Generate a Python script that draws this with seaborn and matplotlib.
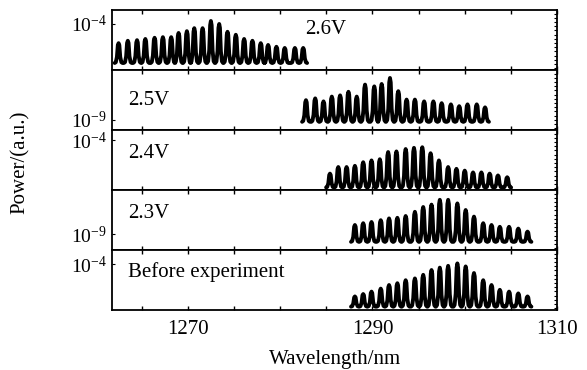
import numpy as np
import pandas as pd
import matplotlib
matplotlib.use('Agg')
import matplotlib.pyplot as plt
import seaborn as sns
from matplotlib.ticker import FixedLocator, MultipleLocator, NullFormatter

# peak wavelengths (nm) and peak power (log10) for each bias
wl_26 = [1262.5, 1263.5, 1264.5, 1265.4, 1266.4, 1267.3, 1268.2, 1269.0, 1269.9, 1270.7, 1271.6, 1272.5,
         1273.4, 1274.3, 1275.2, 1276.1, 1277.0, 1277.9, 1278.7, 1279.6, 1280.5, 1281.6, 1282.5]
pk_26 = [-7.2, -6.8, -6.7, -6.5, -6.3, -6.2, -6.2, -5.5, -5.2, -4.7, -4.7, -3.5,
         -4.0, -5.3, -5.8, -6.5, -6.8, -7.2, -7.5, -7.8, -8.0, -8.0, -8.0]

wl_25 = [1282.8, 1283.8, 1284.7, 1285.6, 1286.5, 1287.4, 1288.3, 1289.2, 1290.2, 1291.0, 1291.9,
         1292.8, 1293.7, 1294.6, 1295.6, 1296.6, 1297.5, 1298.5, 1299.4, 1300.3, 1301.3, 1302.2]
pk_25 = [-5.7, -5.4, -5.9, -5.1, -4.9, -4.3, -5.1, -3.1, -3.4, -3.0, -2.0,
         -4.2, -5.6, -5.6, -5.9, -5.9, -6.2, -6.4, -6.7, -6.4, -6.4, -6.9]

wl_24 = [1285.4, 1286.3, 1287.2, 1288.1, 1289.0, 1289.9, 1290.8, 1291.7, 1292.6, 1293.6, 1294.5,
         1295.4, 1296.3, 1297.2, 1298.2, 1299.1, 1300.0, 1300.9, 1301.8, 1302.7, 1303.6, 1304.6]
pk_24 = [-9.6, -8.5, -8.5, -8.3, -7.7, -7.4, -7.2, -6.0, -5.9, -5.5, -5.3,
         -5.2, -6.2, -7.4, -8.5, -8.8, -9.1, -9.4, -9.4, -9.6, -9.9, -10.2]

wl_23 = [1288.1, 1289.0, 1289.9, 1290.9, 1291.8, 1292.7, 1293.6, 1294.6, 1295.5, 1296.4, 1297.3,
         1298.2, 1299.2, 1300.1, 1301.0, 1302.0, 1302.9, 1303.8, 1304.8, 1305.8, 1306.8]
pk_23 = [-7.5, -7.2, -7.0, -6.7, -6.4, -6.3, -6.0, -5.3, -4.5, -4.1, -3.3,
         -3.3, -3.9, -5.0, -6.1, -7.2, -7.5, -7.8, -7.8, -8.1, -8.6]

wl_0 = [1288.1, 1289.0, 1289.9, 1290.9, 1291.8, 1292.7, 1293.6, 1294.6, 1295.5, 1296.4, 1297.3,
        1298.2, 1299.2, 1300.1, 1301.0, 1302.0, 1302.9, 1303.8, 1304.8, 1305.8, 1306.8]
pk_0 = [-9.4, -9.0, -8.6, -8.1, -7.5, -7.2, -6.7, -6.4, -5.8, -5.0, -4.6,
        -4.3, -3.9, -4.4, -5.5, -6.7, -7.5, -8.3, -8.6, -8.9, -9.4]

floors = [-10.5, -9.3, -11.9, -10.3, -11.1]          # noise floor (log10)
ylims = [(-11.67, -1.67), (-10.67, -0.67), (-12.33, -2.33), (-11.67, -1.67), (-11.67, -1.67)]
yticks = [-4, -9, -4, -9, -4]
labels = ['2.6V', '2.5V', '2.4V', '2.3V', 'Before experiment']
label_pos = [(0.434, 0.667), (0.036, 0.5), (0.036, 0.617), (0.036, 0.617), (0.036, 0.633)]

panels = [(wl_26, pk_26), (wl_25, pk_25), (wl_24, pk_24), (wl_23, pk_23), (wl_0, pk_0)]

# shape of a single comb line (offset in nm, fraction of peak height)
prof_dx = [-0.42, -0.3, -0.18, -0.08, 0.0, 0.08, 0.18, 0.3, 0.42]
prof_fr = [0.0, 0.04, 0.3, 0.9, 1.0, 0.9, 0.3, 0.04, 0.0]


def comb_trace(wl, pk, floor):
    xs, ys = [], []
    for c, h in zip(wl, pk):
        for dx, fr in zip(prof_dx, prof_fr):
            xs.append(c + dx)
            ys.append(10 ** (floor + fr * (h - floor)))
    return pd.DataFrame({'wl': xs, 'power': ys})


sns.set_theme(style='ticks')
plt.rcParams['font.family'] = ['Liberation Serif', 'DejaVu Serif']
plt.rcParams['mathtext.fontset'] = 'custom'
plt.rcParams['mathtext.rm'] = 'Liberation Serif'
plt.rcParams['mathtext.it'] = 'Liberation Serif:italic'
for key in ['text.color', 'axes.labelcolor', 'xtick.color', 'ytick.color']:
    plt.rcParams[key] = 'black'

fig, axes = plt.subplots(5, 1, figsize=(5.87, 3.70), dpi=100, sharex=True)
fig.subplots_adjust(left=0.191, right=0.949, top=0.973, bottom=0.162, hspace=0)

for i, ax in enumerate(axes):
    wl, pk = panels[i]
    df = comb_trace(wl, pk, floors[i])
    sns.lineplot(data=df, x='wl', y='power', ax=ax, sort=False, estimator=None,
                 color='black', lw=2.8)
    ax.set_yscale('log')
    lo, hi = ylims[i]
    ax.set_ylim(10 ** lo, 10 ** hi)
    ax.yaxis.set_major_locator(FixedLocator([10.0 ** yticks[i]]))
    ax.yaxis.set_minor_locator(FixedLocator(list(10 ** np.arange(lo + 0.3, hi, 0.7))))
    ax.yaxis.set_minor_formatter(NullFormatter())
    ax.set_yticklabels([r'$\mathregular{10^{%d}}$' % yticks[i]])
    ax.set_xlim(1261.8, 1310)
    ax.xaxis.set_major_locator(FixedLocator([1270, 1290, 1310]))
    ax.xaxis.set_minor_locator(MultipleLocator(5))
    ax.tick_params(axis='x', which='both', direction='in', top=True, bottom=True,
                   length=3, width=1, labelsize=15, pad=7)
    ax.tick_params(axis='y', which='major', direction='in', left=True, right=False,
                   length=2, width=0.8, labelsize=14, pad=4)
    ax.tick_params(axis='y', which='minor', direction='in', left=False, right=True,
                   length=2.5, width=0.8)
    for sp in ax.spines.values():
        sp.set_color('black')
        sp.set_linewidth(1.3)
    ax.set_xlabel('')
    ax.set_ylabel('')
    ax.text(label_pos[i][0], label_pos[i][1], labels[i], transform=ax.transAxes,
            ha='left', va='center', fontsize=15)

axes[-1].set_xlabel('Wavelength/nm', fontsize=15, labelpad=8)
fig.text(0.034, 0.562, 'Power/(a.u.)', rotation=90, ha='center', va='center', fontsize=15)

plt.savefig('out.png', dpi=100)
plt.close()
